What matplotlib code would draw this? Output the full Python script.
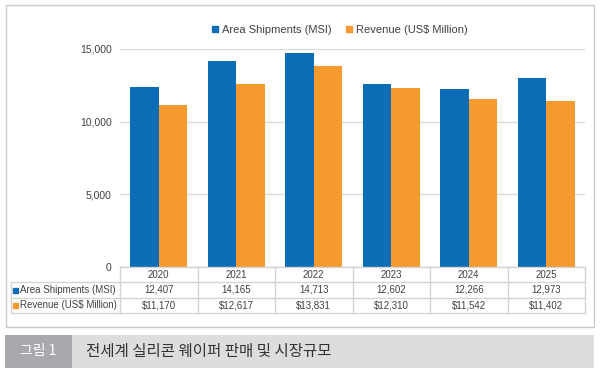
import matplotlib
matplotlib.use("Agg")
import matplotlib.pyplot as plt
import numpy as np
from matplotlib.lines import Line2D
from matplotlib.patches import Rectangle, Patch
from matplotlib.transforms import blended_transform_factory
from matplotlib import font_manager

years = ["2020", "2021", "2022", "2023", "2024", "2025"]
area = [12407, 14165, 14713, 12602, 12266, 12973]
revenue = [11170, 12617, 13831, 12310, 11542, 11402]
area_labels = ["12,407", "14,165", "14,713", "12,602", "12,266", "12,973"]
rev_labels = ["$11,170", "$12,617", "$13,831", "$12,310", "$11,542", "$11,402"]
series_names = ["Area Shipments (MSI)", "Revenue (US$ Million)"]
yticks = [0, 5000, 10000, 15000]
caption_tag = "그림 1"
caption = "전세계 실리콘 웨이퍼 판매 및 시장규모"

BLUE = "#0a6db5"
ORANGE = "#f59a2f"
GRID = "#d9d9d9"
TXT = "#404040"
FONT = ["Liberation Sans", "DejaVu Sans"]
names = {f.name for f in font_manager.fontManager.ttflist}
if "Liberation Sans Narrow" in names:
    TFONT = ["Liberation Sans Narrow", "DejaVu Sans"]
    TSIZE = 9.0
else:
    TFONT = FONT
    TSIZE = 7.0
KFONT = ["Noto Sans CJK KR", "DejaVu Sans"]

W, H = 601, 378
fig = plt.figure(figsize=(W / 100, H / 100), dpi=100)
fig.patch.set_facecolor("white")

def fx(x):
    return x / W

def fy(y):
    return 1 - y / H

# outer frame
fig.add_artist(Rectangle((fx(6), fy(327)), fx(594) - fx(6), fy(5) - fy(327),
                         transform=fig.transFigure, fill=False,
                         edgecolor="#c9c9c9", linewidth=1.0))

ax = fig.add_axes([fx(120), fy(267), fx(585) - fx(120), fy(49) - fy(267)])
x = np.arange(len(years))
w = 0.37
ax.bar(x - w / 2, area, width=w, color=BLUE, zorder=3)
ax.bar(x + w / 2, revenue, width=w, color=ORANGE, zorder=3)
ax.set_xlim(-0.5, len(years) - 0.5)
ax.set_ylim(0, 15000)
ax.set_yticks(yticks)
ax.set_yticklabels([f"{v:,}" for v in yticks], fontfamily=FONT, fontsize=7.5, color=TXT)
ax.tick_params(axis="y", length=0, pad=6)
ax.set_xticks([])
for s in ax.spines.values():
    s.set_visible(False)
ax.yaxis.grid(True, color=GRID, linewidth=1.0, zorder=0)
ax.set_axisbelow(True)

# legend
handles = [Patch(color=BLUE, label=series_names[0]), Patch(color=ORANGE, label=series_names[1])]
leg = fig.legend(handles=handles, loc="center", bbox_to_anchor=(fx(340), fy(30)),
                 ncol=2, frameon=False, handlelength=0.55, handleheight=0.55,
                 handletextpad=0.35, columnspacing=1.3,
                 prop={"family": FONT, "size": 8})
for t in leg.get_texts():
    t.set_color(TXT)

# data table
tcol = "#d4d4d4"
def hline(y, x0, x1):
    fig.add_artist(Line2D([fx(x0), fx(x1)], [fy(y), fy(y)], transform=fig.transFigure,
                          color=tcol, linewidth=1.0))
def vline(xp, y0, y1):
    fig.add_artist(Line2D([fx(xp), fx(xp)], [fy(y0), fy(y1)], transform=fig.transFigure,
                          color=tcol, linewidth=1.0))

hline(267, 120, 585)
hline(282, 11, 585)
hline(298, 11, 585)
hline(313, 11, 585)
vline(11, 282, 313)
for i in range(len(years) + 1):
    xp = 120 + i * (585 - 120) / len(years)
    vline(xp, 267, 313)

tr = blended_transform_factory(ax.transData, fig.transFigure)
for i in range(len(years)):
    fig.text(x[i], fy(274.5), years[i], transform=tr, ha="center", va="center",
             fontfamily=TFONT, fontsize=TSIZE, color=TXT)
    fig.text(x[i], fy(290), area_labels[i], transform=tr, ha="center", va="center",
             fontfamily=TFONT, fontsize=TSIZE, color=TXT)
    fig.text(x[i], fy(305.5), rev_labels[i], transform=tr, ha="center", va="center",
             fontfamily=TFONT, fontsize=TSIZE, color=TXT)

for yc, col, name in [(290, BLUE, series_names[0]), (305.5, ORANGE, series_names[1])]:
    fig.add_artist(Rectangle((fx(13), fy(yc + 2.5)), fx(5), fy(0) - fy(5),
                             transform=fig.transFigure, color=col))
    fig.text(fx(19.5), fy(yc), name, ha="left", va="center",
             fontfamily=TFONT, fontsize=TSIZE, color=TXT)

# caption band
fig.add_artist(Rectangle((fx(5), fy(368)), fx(594) - fx(5), fy(335) - fy(368),
                         transform=fig.transFigure, color="#dcdddf", linewidth=0))
fig.add_artist(Rectangle((fx(5), fy(368)), fx(72) - fx(5), fy(335) - fy(368),
                         transform=fig.transFigure, color="#a7a9ac", linewidth=0))
fig.text(fx(38.5), fy(351.5), caption_tag, ha="center", va="center",
         fontfamily=KFONT, fontsize=10, color="white")
fig.text(fx(86), fy(351.5), caption, ha="left", va="center",
         fontfamily=KFONT, fontsize=11.2, color="#333333")

fig.savefig("out.png", dpi=100, facecolor="white")
